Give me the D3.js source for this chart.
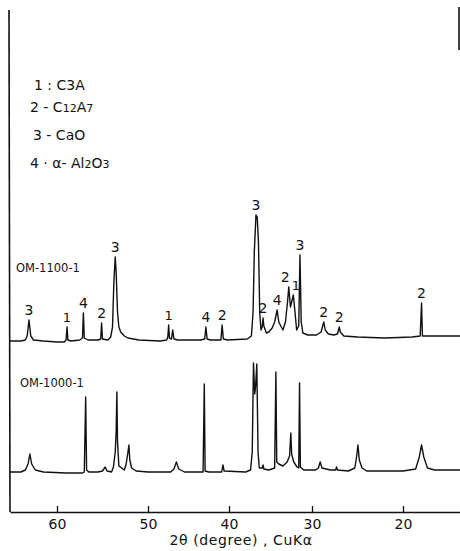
<!DOCTYPE html>
<html>
<head>
<meta charset="utf-8">
<script src="https://cdn.jsdelivr.net/npm/d3@7"></script>
<style>
  html, body { margin: 0; padding: 0; background: #fff; }
  svg { display: block; font-family: "DejaVu Sans", sans-serif; }
  .trace { fill: none; stroke: #111; stroke-width: 1.4; stroke-linejoin: round; }
  .frame { fill: none; stroke: #111; stroke-width: 1.6; }
  .peak-label { font-size: 14px; fill: #111; text-anchor: middle; }
</style>
</head>
<body>
<svg width="460" height="551"></svg>
<script>
// axis ticks (2θ, degrees) -- the scanned scale is not quite even
const AXIS_DEG = [65.2, 60, 50, 40, 30, 20, 13.7];
const TICKS = [60, 50, 40, 30, 20];

// OM-1100-1 trace, [2θ, counts]
const OM1100 = [
  [65.2,171],[64.0,171],[63.5,172],[63.3,176],[63.1,192],[62.9,176],[62.6,172],[61.5,171],
  [60.0,170],[59.2,170],[59.0,172],[58.9,185],[58.8,172],[58.5,171],[57.5,172],[57.2,174],
  [57.1,199],[57.0,174],[56.6,172],[55.5,172],[55.2,173],[55.1,189],[55.0,173],[54.4,172],
  [54.1,175],[53.9,185],[53.75,230],[53.6,255],[53.5,240],[53.35,200],[53.2,185],[53.0,180],
  [52.6,176],[52.2,174],[51.0,172],[48.5,171],[47.7,172],[47.55,175],[47.45,187],[47.35,174],
  [47.1,173],[46.95,182],[46.8,173],[46.3,172],[43.5,172],[43.0,173],[42.85,185],[42.7,173],
  [42.3,172],[41.0,172],[40.85,187],[40.7,173],[40.2,172],[37.8,173],[37.3,176],[37.1,200],
  [36.95,260],[36.75,297],[36.6,295],[36.45,270],[36.3,200],[36.15,182],[36.0,185],[35.9,194],
  [35.8,186],[35.5,179],[35.2,180],[34.8,184],[34.5,190],[34.2,202],[34.0,190],[33.7,185],
  [33.5,182],[33.2,190],[32.95,210],[32.8,225],[32.6,205],[32.45,210],[32.25,217],[32.05,200],
  [31.85,182],[31.6,186],[31.45,257],[31.3,190],[31.1,179],[30.5,177],[29.5,177],[29.0,180],
  [28.8,187],[28.7,190],[28.55,182],[28.2,178],[27.6,177],[27.2,178],[27.0,185],[26.9,180],
  [26.5,176],[25.0,175],[22.0,174],[19.0,175],[18.1,176],[17.95,209],[17.85,176],[16.0,176],
  [13.7,176]
];

// OM-1000-1 trace, [2θ, counts]
const OM1000 = [
  [65.2,40],[64.0,40],[63.5,42],[63.2,48],[63.0,58],[62.8,48],[62.4,42],[61.5,40],[59.0,39],
  [57.2,39],[57.0,40],[56.85,115],[56.75,42],[56.5,40],[55.5,40],[55.0,41],[54.7,45],[54.5,41],
  [54.0,40],[53.8,45],[53.6,60],[53.5,80],[53.42,120],[53.35,70],[53.2,46],[52.6,42],[52.4,48],
  [52.2,60],[52.1,67],[52.0,52],[51.8,44],[51.3,41],[50.0,40],[47.2,40],[46.8,43],[46.5,50],
  [46.2,43],[45.5,40],[43.2,40],[43.05,128],[42.95,41],[42.5,40],[40.9,40],[40.75,47],[40.6,41],
  [38.0,40],[37.4,42],[37.2,60],[37.05,149],[36.9,118],[36.8,125],[36.65,148],[36.5,60],
  [36.35,44],[36.0,44],[35.9,47],[35.8,43],[35.2,42],[34.5,44],[34.35,140],[34.25,50],[34.0,48],
  [33.5,46],[33.0,50],[32.7,56],[32.55,79],[32.45,58],[32.2,50],[31.8,45],[31.6,44],[31.5,129],
  [31.4,45],[31.0,42],[29.6,42],[29.3,44],[29.1,50],[28.9,44],[28.0,42],[27.4,42],[27.3,45],
  [27.2,42],[26.0,41],[25.3,44],[25.1,55],[24.95,67],[24.8,52],[24.5,44],[24.0,41],[20.0,41],
  [18.6,43],[18.2,55],[17.95,67],[17.7,55],[17.3,44],[16.5,42],[13.7,42]
];

// phase labels on OM-1100-1: [2θ, phase number]
const PEAK_LABELS = [
  [63.1,"3"],[58.9,"1"],[57.1,"4"],[55.1,"2"],[53.6,"3"],[47.45,"1"],[42.85,"4"],
  [40.85,"2"],[36.75,"3"],[35.9,"2"],[34.2,"4"],[32.8,"2"],[32.25,"1"],[31.45,"3"],
  [28.7,"2"],[27.0,"2"],[17.95,"2"]
];

const SAMPLES = ["OM-1100-1", "OM-1000-1"];

const svg = d3.select("svg");

const x = d3.scaleLinear()
  .domain(AXIS_DEG)
  .range([10, 57, 148, 229, 312, 403, 460]);
const y = d3.scaleLinear().domain([0, 500]).range([512, 12]);

const line = d3.line().x(d => x(d[0])).y(d => y(d[1]));

// frame: left edge and the short mark top right
svg.append("path").attr("class", "frame").attr("d", "M9,10L10,512");
svg.append("path").attr("class", "frame").attr("d", "M459,7L459,50");

// bottom axis
const axis = svg.append("g")
  .attr("transform", "translate(0,512)")
  .call(d3.axisBottom(x).tickValues(TICKS).tickSizeInner(-6).tickSizeOuter(0).tickPadding(7));
axis.select(".domain").attr("stroke", "#111").attr("stroke-width", 1.6);
axis.selectAll(".tick line").attr("stroke", "#111").attr("stroke-width", 1.3);
axis.selectAll(".tick text")
  .attr("fill", "#111")
  .style("font-size", "14px")
  .style("font-family", "DejaVu Sans, sans-serif");

svg.append("text")
  .attr("x", 241).attr("y", 545)
  .attr("text-anchor", "middle")
  .style("font-size", "14px")
  .style("letter-spacing", "0.6px")
  .attr("fill", "#111")
  .text("2θ (degree) , CuKα");

// traces
svg.append("path").datum(OM1100).attr("class", "trace").attr("d", line);
svg.append("path").datum(OM1000).attr("class", "trace").attr("d", line);

// peak labels sit just above the local maximum of the upper trace;
// the crowded 2/1 pair near 32.5° is pushed apart a little
const nudge = { 32.8: -3.5, 32.25: 2.5 };
svg.selectAll(".peak-label")
  .data(PEAK_LABELS)
  .enter()
  .append("text")
  .attr("class", "peak-label")
  .attr("x", d => x(d[0]) + (nudge[d[0]] || 0))
  .attr("y", d => {
    const near = OM1100.filter(p => Math.abs(p[0] - d[0]) < 0.12);
    return y(d3.max(near, p => p[1])) - 5;
  })
  .style("font-size", d => d[1] === "1" ? "13px" : null)
  .text(d => d[1]);

// sample names
svg.selectAll(".sample")
  .data(SAMPLES)
  .enter()
  .append("text")
  .attr("class", "sample")
  .attr("x", (d, i) => i === 0 ? 16 : 20)
  .attr("y", (d, i) => i === 0 ? 272 : 387)
  .style("font-size", "11.5px")
  .attr("fill", "#111")
  .text(d => d);

// legend
const legend = svg.append("g")
  .attr("fill", "#111")
  .style("font-size", "14px");

const l1 = legend.append("text").attr("x", 34).attr("y", 90);
l1.append("tspan").text("1 : C3A");

const l2 = legend.append("text").attr("x", 30).attr("y", 112);
l2.append("tspan").text("2 - C");
l2.append("tspan").style("font-size", "11px").text("12");
l2.append("tspan").text("A");
l2.append("tspan").style("font-size", "11px").text("7");

const l3 = legend.append("text").attr("x", 33).attr("y", 140);
l3.append("tspan").text("3 - CaO");

const l4 = legend.append("text").attr("x", 30).attr("y", 168);
l4.append("tspan").text("4 · α- Al");
l4.append("tspan").style("font-size", "11px").text("2");
l4.append("tspan").text("O");
l4.append("tspan").style("font-size", "11px").text("3");
</script>
</body>
</html>
